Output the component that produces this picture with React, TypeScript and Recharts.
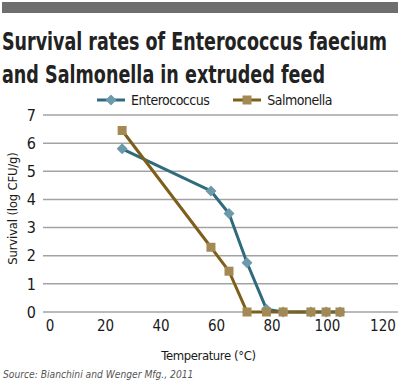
import React from "react";
import { LineChart, Line, XAxis, YAxis, CartesianGrid, Legend, Label } from "recharts";

const temps = [26, 58, 64.5, 71, 78, 84, 94, 99.5, 104.5];
const enterococcus = [5.8, 4.3, 3.5, 1.75, 0.1, 0, 0, 0, 0];
const salmonella = [6.45, 2.3, 1.45, 0, 0, 0, 0, 0, 0];
const xTicks = [0, 20, 40, 60, 80, 100, 120];
const yTicks = [0, 1, 2, 3, 4, 5, 6, 7];

const data = temps.map((t, i) => ({ temp: t, enterococcus: enterococcus[i], salmonella: salmonella[i] }));

const FONT = "'Liberation Sans Narrow', 'DejaVu Sans Condensed', sans-serif";
const TEAL_LINE = "#2f6b7c";
const TEAL_DOT = "#6d9aab";
const GOLD_LINE = "#7d5e1a";
const GOLD_DOT = "#a38a55";
const SX = 0.713; // horizontal squeeze for the condensed title

const Diamond = (props: any) => {
  const { cx, cy } = props;
  if (cx == null || cy == null) return null;
  const r = 5.5;
  return <polygon points={`${cx},${cy - r} ${cx + r},${cy} ${cx},${cy + r} ${cx - r},${cy}`} fill={TEAL_DOT} />;
};

const Square = (props: any) => {
  const { cx, cy } = props;
  if (cx == null || cy == null) return null;
  const s = 4.5;
  return <rect x={cx - s} y={cy - s} width={s * 2} height={s * 2} fill={GOLD_DOT} />;
};

const LegendContent = () => (
  <div style={{ display: "flex", alignItems: "center", fontFamily: FONT, fontSize: 14, letterSpacing: -0.5, color: "#1a1a1a" }}>
    <svg width={30} height={14}>
      <line x1={1} y1={7} x2={29} y2={7} stroke={TEAL_LINE} strokeWidth={3} />
      <polygon points="15,1.5 20.5,7 15,12.5 9.5,7" fill={TEAL_DOT} />
    </svg>
    <span style={{ marginLeft: 5, marginRight: 24 }}>Enterococcus</span>
    <svg width={28} height={14}>
      <line x1={0} y1={7} x2={28} y2={7} stroke={GOLD_LINE} strokeWidth={3} />
      <rect x={9.5} y={2.5} width={9} height={9} fill={GOLD_DOT} />
    </svg>
    <span style={{ marginLeft: 6 }}>Salmonella</span>
  </div>
);

export default function App() {
  return (
    <div style={{ position: "absolute", left: 0, top: 0, width: 400, height: 385, background: "#fff" }}>
      <svg width={400} height={90} style={{ position: "absolute", left: 0, top: 0 }}>
        <rect x={2} y={2} width={396} height={11} fill="#6e6e6e" />
        <g transform={`translate(2,50) scale(${SX},1)`}>
          <text x={0} y={0} fontFamily={FONT} fontWeight="bold" fontSize={25} fill="#222" textLength={385 / SX} lengthAdjust="spacingAndGlyphs">
            Survival rates of Enterococcus faecium
          </text>
        </g>
        <g transform={`translate(2,83) scale(${SX},1)`}>
          <text x={0} y={0} fontFamily={FONT} fontWeight="bold" fontSize={25} fill="#222" textLength={323 / SX} lengthAdjust="spacingAndGlyphs">
            and Salmonella in extruded feed
          </text>
        </g>
      </svg>
      <div style={{ position: "absolute", left: 0, top: 0 }}>
        <LineChart width={400} height={385} data={data} margin={{ top: 115, right: 2, left: 0, bottom: 23 }}>
          <CartesianGrid vertical={false} stroke="#a3a3a3" strokeWidth={1.5} />
          <XAxis
            type="number"
            dataKey="temp"
            domain={[0, 120]}
            ticks={xTicks}
            padding={{ left: 7, right: 15 }}
            axisLine={false}
            tickLine={false}
            tickSize={0}
            tickMargin={8}
            height={50}
            tick={{ fill: "#1a1a1a", fontSize: 15, fontFamily: FONT }}
          >
            <Label value="Temperature (°C)" position="insideBottom" offset={2} dx={-12} fill="#1a1a1a" fontSize={13} letterSpacing={-0.4} fontFamily={FONT} />
          </XAxis>
          <YAxis
            type="number"
            domain={[0, 7]}
            ticks={yTicks}
            axisLine={false}
            tickLine={false}
            tickSize={0}
            tickMargin={7}
            width={43}
            tick={{ fill: "#1a1a1a", fontSize: 16, fontFamily: FONT }}
          >
            <Label value="Survival (log CFU/g)" angle={-90} position="insideLeft" offset={12} dy={-5} fill="#1a1a1a" fontSize={13} letterSpacing={-0.2} fontFamily={FONT} style={{ textAnchor: "middle" }} />
          </YAxis>
          <Legend
            layout="horizontal"
            verticalAlign="middle"
            align="center"
            content={<LegendContent />}
            wrapperStyle={{ top: 92, left: 96, width: "auto" }}
          />
          <Line
            dataKey="enterococcus"
            name="Enterococcus"
            stroke={TEAL_LINE}
            strokeWidth={3}
            dot={<Diamond />}
            activeDot={false}
            isAnimationActive={false}
          />
          <Line
            dataKey="salmonella"
            name="Salmonella"
            stroke={GOLD_LINE}
            strokeWidth={3}
            dot={<Square />}
            activeDot={false}
            isAnimationActive={false}
          />
        </LineChart>
      </div>
      <div style={{ position: "absolute", left: 3, top: 369, fontFamily: FONT, fontStyle: "italic", fontSize: 10.2, color: "#555" }}>
        Source: Bianchini and Wenger Mfg., 2011
      </div>
    </div>
  );
}
